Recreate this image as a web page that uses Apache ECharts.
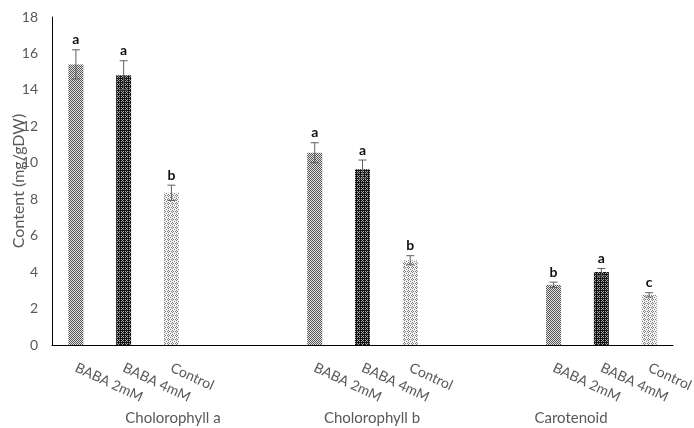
<!DOCTYPE html>
<html>
<head>
<meta charset="utf-8">
<script src="https://cdn.jsdelivr.net/npm/echarts@6/dist/echarts.min.js"></script>
<style>
  html, body { margin: 0; padding: 0; background: #fff; }
  #chart { width: 694px; height: 428px; }
</style>
</head>
<body>
<div id="chart"></div>
<script>
// Pigment content per treatment, with standard errors and significance letters
const groups = ['Cholorophyll a', 'Cholorophyll b', 'Carotenoid'];
const treatments = ['BABA 2mM', 'BABA 4mM', 'Control'];
const chlA = [15.4, 14.8, 8.35];
const chlB = [10.55, 9.65, 4.65];
const carotenoid = [3.3, 4.0, 2.75];
const errChlA = [0.8, 0.8, 0.42];
const errChlB = [0.55, 0.5, 0.25];
const errCarotenoid = [0.15, 0.2, 0.12];
const lettersChlA = ['a', 'a', 'b'];
const lettersChlB = ['a', 'a', 'b'];
const lettersCarotenoid = ['b', 'a', 'c'];
const yTicks = { min: 0, max: 18, interval: 2 };

const means = [chlA, chlB, carotenoid];
const errs = [errChlA, errChlB, errCarotenoid];
const letters = [lettersChlA, lettersChlB, lettersCarotenoid];

// Fine dot textures for the three treatments
function makePattern(bg, fg, cells) {
  const c = document.createElement('canvas');
  c.width = 4; c.height = 4;
  const ctx = c.getContext('2d');
  ctx.fillStyle = bg; ctx.fillRect(0, 0, 4, 4);
  ctx.fillStyle = fg;
  cells.forEach(([x, y]) => ctx.fillRect(x, y, 1, 1));
  return { image: c, repeat: 'repeat' };
}
const patterns = [
  makePattern('#e2e2e2', '#555555', [[0,0],[2,0],[1,1],[3,1],[0,2],[2,2],[1,3],[3,3]]),
  makePattern('#141414', '#a8a8a8', [[1,1],[3,1],[1,3],[3,3],[2,0]]),
  makePattern('#f2f2f2', '#808080', [[0,0],[2,1],[0,2],[3,3],[1,3]])
];

// Category slots: three bars per group, two empty slots between groups
const slots = [];
const barData = [];
const errData = [];
const errLetters = [];
groups.forEach((g, gi) => {
  treatments.forEach((t, ti) => {
    const idx = slots.length;
    slots.push(t);
    barData.push({ value: means[gi][ti], itemStyle: { color: patterns[ti] } });
    errData.push([idx, means[gi][ti], errs[gi][ti]]);
    errLetters.push(letters[gi][ti]);
  });
  if (gi < groups.length - 1) {
    slots.push(' ' + gi + 'a'); barData.push(null);
    slots.push(' ' + gi + 'b'); barData.push(null);
  }
});

const gray = '#595959';
const fontFamily = 'Lato, "Liberation Sans", sans-serif';

const chart = echarts.init(document.getElementById('chart'), null, { renderer: 'canvas' });
chart.setOption({
  animation: false,
  backgroundColor: '#fff',
  grid: [
    { left: 52, right: 21, top: 17, bottom: 83, containLabel: false, outerBoundsMode: 'none' },
    { left: 73.5, width: 597, top: 17, bottom: 83, containLabel: false, outerBoundsMode: 'none' }
  ],
  xAxis: [
    {
      type: 'category', gridIndex: 0, data: slots,
      axisLine: { lineStyle: { color: '#000', width: 1 } },
      axisTick: { show: false },
      axisLabel: {
        interval: 0, rotate: -25, margin: 22, color: gray, fontSize: 14, fontFamily,
        hideOverlap: false,
        formatter: v => (v.charAt(0) === ' ' ? '' : v)
      }
    },
    {
      type: 'category', gridIndex: 1, data: groups,
      axisLine: { show: false }, axisTick: { show: false },
      axisLabel: { interval: 0, margin: 66, color: gray, fontSize: 15, fontFamily }
    }
  ],
  yAxis: [
    {
      type: 'value', gridIndex: 0, min: yTicks.min, max: yTicks.max, interval: yTicks.interval,
      name: 'Content (mg/gDW)', nameLocation: 'middle', nameGap: 25,
      nameMoveOverlap: false,
      nameTextStyle: { color: gray, fontSize: 16, fontFamily },
      axisLine: { show: true, lineStyle: { color: '#000', width: 1 } },
      axisTick: { show: false },
      splitLine: { show: false },
      axisLabel: { color: gray, fontSize: 14, fontFamily, margin: 14 }
    },
    { type: 'value', gridIndex: 1, show: false, min: 0, max: 18 }
  ],
  series: [
    {
      type: 'bar', xAxisIndex: 0, yAxisIndex: 0, data: barData,
      barWidth: 15, barGap: '0%'
    },
    {
      type: 'custom', xAxisIndex: 0, yAxisIndex: 0, z: 5,
      data: errData,
      renderItem: function (params, api) {
        const x = api.value(0), m = api.value(1), e = api.value(2);
        const top = api.coord([x, m + e]);
        const bot = api.coord([x, m - e]);
        const cap = 4;
        const style = { stroke: '#606060', lineWidth: 1 };
        return {
          type: 'group',
          children: [
            { type: 'line', shape: { x1: top[0], y1: top[1], x2: bot[0], y2: bot[1] }, style },
            { type: 'line', shape: { x1: top[0] - cap, y1: top[1], x2: top[0] + cap, y2: top[1] }, style },
            { type: 'line', shape: { x1: bot[0] - cap, y1: bot[1], x2: bot[0] + cap, y2: bot[1] }, style },
            {
              type: 'text',
              style: {
                x: top[0], y: top[1] - 3, text: errLetters[params.dataIndex],
                textAlign: 'center', textVerticalAlign: 'bottom',
                fill: '#111', fontSize: 14, fontWeight: 'bold', fontFamily
              }
            }
          ]
        };
      }
    }
  ]
});
</script>
</body>
</html>
